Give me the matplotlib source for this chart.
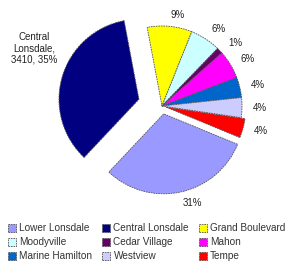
import matplotlib
matplotlib.use("Agg")
import matplotlib.pyplot as plt

names = ["Lower Lonsdale", "Central Lonsdale", "Grand Boulevard", "Moodyville",
         "Cedar Village", "Mahon", "Marine Hamilton", "Westview", "Tempe"]
values = [3000, 3410, 880, 600, 120, 560, 400, 390, 380]
colors = ["#9999FF", "#000080", "#FFFF00", "#CCFFFF", "#660066",
          "#FF00FF", "#0066CC", "#CCCCFF", "#FF0000"]
explode = [0.1, 0.3, 0, 0, 0, 0, 0, 0, 0.05]

plt.rcParams['font.family'] = ['Liberation Sans', 'DejaVu Sans']

total = sum(values)
labels = []
for n, v in zip(names, values):
    p = round(100 * v / total)
    if n == "Central Lonsdale":
        labels.append("Central\nLonsdale,\n%d, %d%%" % (v, p))
    else:
        labels.append("%d%%" % p)

fig = plt.figure(figsize=(2.99, 2.69), dpi=100)
ax = fig.add_axes([0, 0, 1, 1])
wedges, texts = ax.pie(values, labels=labels, colors=colors, explode=explode,
                       startangle=337.6, counterclock=False, labeldistance=1.14,
                       wedgeprops=dict(edgecolor="#555555", linewidth=0.6,
                                       linestyle=(0, (2, 1))),
                       textprops=dict(fontsize=7, color="#222222"))
texts[1].set_position((-1.6, 0.72))
texts[1].set_ha("center")
texts[1].set_multialignment("center")
ax.set_xlim(-162 / 80, (299 - 162) / 80)
ax.set_ylim(-(269 - 106) / 80, 106 / 80)
ax.set_aspect("auto")
ax.axis("off")

order = [r * 3 + c for c in range(3) for r in range(3)]
fig.legend([wedges[i] for i in order], [names[i] for i in order], ncol=3,
           loc="upper left", bbox_to_anchor=(0.015, 0.185), frameon=False,
           fontsize=7.2, handlelength=0.8, handleheight=0.8, handletextpad=0.3,
           columnspacing=1.0, labelspacing=0.4, borderaxespad=0,
           labelcolor="#333333")

fig.savefig("out.png", dpi=100)
